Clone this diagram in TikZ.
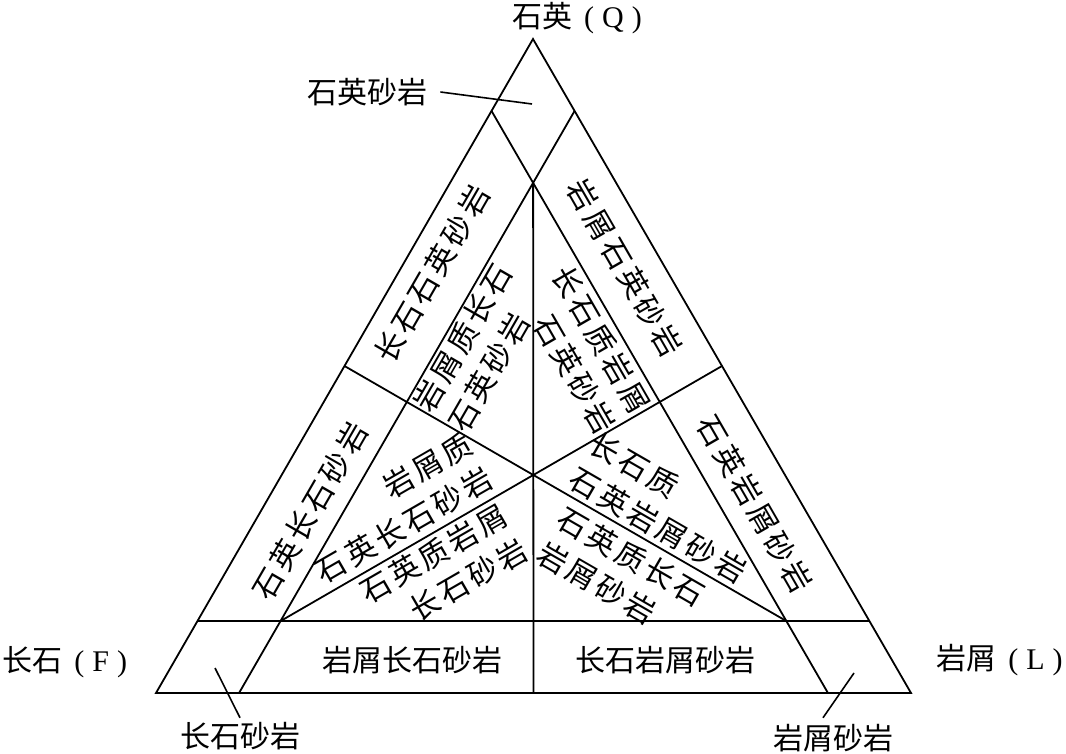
\documentclass[tikz,border=0pt]{standalone}
\usepackage{fontspec}
\setmainfont{Liberation Serif}
\newfontfamily\cjk{Noto Sans CJK SC}
\newfontfamily\cjkwide{Noto Sans CJK SC}[LetterSpace=12]
\usetikzlibrary{calc}
\tikzset{
  edge/.style={line width=0.9pt,line join=miter},
  lead/.style={line width=0.8pt},
  zone/.style={font=\cjk\fontsize{15}{20}\selectfont,align=center,inner sep=0pt},
  tilt/.style={zone,font=\cjkwide\fontsize{15}{20}\selectfont,rotate=#1},
  tag/.style={font=\cjk\fontsize{15}{19}\selectfont,inner sep=0pt},
}
\newcommand{\lat}[1]{{\rmfamily #1}}
\newcommand{\vtx}[2]{#1\kern6pt\lat{(\kern4pt#2\kern4pt)}}

\begin{document}
\begin{tikzpicture}[x=0.5pt,y=-0.5pt]
  \useasboundingbox (0,0) rectangle (1066,754);
  % corners of the triangle
  \coordinate (Q) at (533,39);
  \coordinate (F) at (156,693);
  \coordinate (L) at (911,693);
  % cut points
  \coordinate (qf) at (barycentric cs:Q=0.89,F=0.11);
  \coordinate (ql) at (barycentric cs:Q=0.89,L=0.11);
  \coordinate (top) at (barycentric cs:Q=0.78,F=0.11,L=0.11);
  \coordinate (baseF) at (barycentric cs:F=0.89,L=0.11);
  \coordinate (baseL) at (barycentric cs:F=0.11,L=0.89);
  \coordinate (lowF) at (barycentric cs:Q=0.11,F=0.89);
  \coordinate (lowL) at (barycentric cs:Q=0.11,L=0.89);
  \coordinate (midF) at (barycentric cs:Q=0.11,F=0.78,L=0.11);
  \coordinate (midL) at (barycentric cs:Q=0.11,F=0.11,L=0.78);
  \coordinate (halfQF) at (barycentric cs:Q=1,F=1);
  \coordinate (halfQL) at (barycentric cs:Q=1,L=1);
  \coordinate (halfFL) at (barycentric cs:F=1,L=1);
  \coordinate (G) at (barycentric cs:Q=1,F=1,L=1);

  \draw[edge] (Q) -- (F) -- (L) -- cycle;
  \draw[edge] (qf) -- (baseL);
  \draw[edge] (ql) -- (baseF);
  \draw[edge] (lowF) -- (lowL);
  \draw[edge] (top) -- (halfFL);
  \draw[edge] (halfQF) -- (G) -- (halfQL);
  \draw[edge] (midF) -- (G) -- (midL);

  % corner names
  \node[tag] (nQ) at (577,18) {\vtx{石英}{Q}};
  \node[tag,anchor=west] (nF) at (2,662) {\vtx{长石}{F}};
  \node[tag,anchor=east] (nL) at (1063,660) {\vtx{岩屑}{L}};

  % fields
  \node[tilt=60] (z1) at (432,274) {长石石英砂岩};
  \node[tilt=60,align=left] (z2) at (480,348) {岩屑质长石\\石英砂岩};
  \node[tilt=60] (z3) at (310,511) {石英长石砂岩};
  \node[tilt=-60] (z4) at (625,268) {岩屑石英砂岩};
  \node[tilt=-60,align=right] (z5) at (584,350) {长石质岩屑\\石英砂岩};
  \node[tilt=-60] (z6) at (755,504) {石英岩屑砂岩};
  \node[tilt=30,align=right] (z7) at (394,508) {岩屑质\\石英长石砂岩};
  \node[tilt=30,align=right] (z8) at (444,571) {石英质岩屑\\长石砂岩};
  \node[tilt=-30,align=left] (z9) at (668,508) {长石质\\石英岩屑砂岩};
  \node[tilt=-30,align=left] (z10) at (621,574) {石英质长石\\岩屑砂岩};
  \node[zone] (z11) at (412,660) {岩屑长石砂岩};
  \node[zone] (z12) at (665,660) {长石岩屑砂岩};

  % labels with leaders
  \node[tag] (qs) at (367,92) {石英砂岩};
  \node[tag] (fs) at (240,736) {长石砂岩};
  \node[tag] (ls) at (833,738) {岩屑砂岩};
  \coordinate (qsEnd) at (532,104);
  \coordinate (fsEnd) at (215,668);
  \coordinate (lsEnd) at (854,673);
  \draw[lead] ([xshift=6.5pt]qs.east) -- (qsEnd);
  \draw[lead] ([yshift=2pt]fs.north) -- (fsEnd);
  \draw[lead] ([xshift=-5pt,yshift=3pt]ls.north) -- (lsEnd);
\end{tikzpicture}
\end{document}
